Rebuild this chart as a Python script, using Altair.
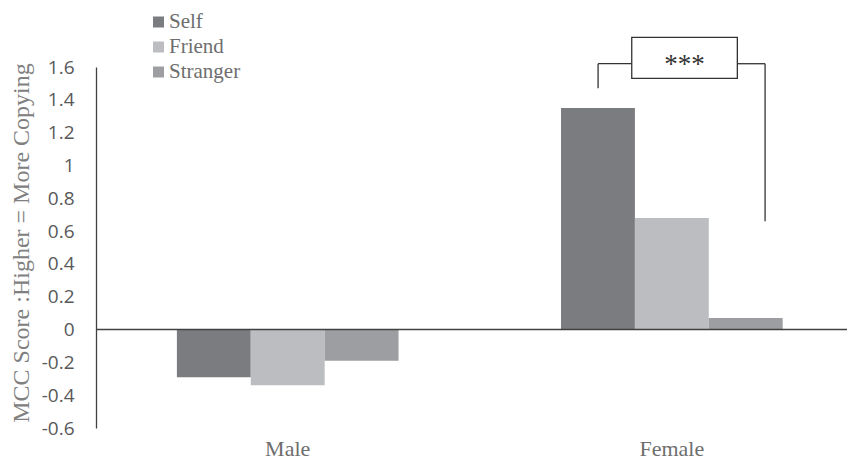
import altair as alt
import pandas as pd

# Mean MCC scores per gender and partner condition
genders = ["Male", "Female"]
conditions = ["Self", "Friend", "Stranger"]
male_scores = [-0.29, -0.34, -0.19]
female_scores = [1.35, 0.68, 0.07]
bar_colors = ["#7b7c80", "#bcbdc1", "#9d9ea2"]
y_ticks = [-0.6, -0.4, -0.2, 0, 0.2, 0.4, 0.6, 0.8, 1.0, 1.2, 1.4, 1.6]

# Significance bracket between Female/Self and Female/Stranger.
# x is in "group units" (Male centre = 0, Female centre = 1), y in score units.
seg_x = [0.808, 0.808, 1.1705, 1.2427]
seg_x2 = [0.808, 0.8956, 1.2427, 1.2427]
seg_y = [1.47, 1.62, 1.62, 1.62]
seg_y2 = [1.62, 1.62, 1.62, 0.66]
box_x, box_x2 = [0.8956], [1.1705]
box_y, box_y2 = [1.531], [1.781]
star_x, star_y, star_text = [1.033], [1.61], ["***"]

# plot size and band layout of the gender axis
W, H = 751, 361
P_INNER, P_OUTER, ALIGN = 0.423, 0.189, 0.557

# group-unit domain that lines up with the band scale above
step = W / (len(genders) - P_INNER + 2 * P_OUTER)
start = (W - step * (len(genders) - P_INNER)) * ALIGN
centre0 = start + step * (1 - P_INNER) / 2
unit_domain = [(0 - centre0) / step, (W - centre0) / step]

rows = []
for g, vals in zip(genders, [male_scores, female_scores]):
    for c, v in zip(conditions, vals):
        rows.append({"gender": g, "condition": c, "score": v})
df = pd.DataFrame(rows)

serif = "Liberation Serif"
text_grey = "#6e6e6e"

y_scale = alt.Scale(domain=[-0.6, 1.6], nice=False, zero=False)
ux_scale = alt.Scale(domain=unit_domain, nice=False, zero=False)

bars = alt.Chart(df).mark_bar().encode(
    x=alt.X(
        "gender:N",
        sort=genders,
        scale=alt.Scale(paddingInner=P_INNER, paddingOuter=P_OUTER, align=ALIGN),
        axis=alt.Axis(
            title=None, domain=False, ticks=False, labelAngle=0,
            labelFont=serif, labelFontSize=22, labelColor=text_grey,
            labelPadding=10,
        ),
    ),
    xOffset=alt.XOffset(
        "condition:N", sort=conditions,
        scale=alt.Scale(paddingInner=0, paddingOuter=0),
    ),
    y=alt.Y(
        "score:Q",
        scale=y_scale,
        axis=alt.Axis(
            values=y_ticks,
            tickCount=len(y_ticks),
            labelExpr="toString(round(datum.value * 10) / 10)",
            labelOverlap=False,
            grid=False, ticks=False, tickSize=0,
            domainColor="#404040", domainWidth=1.3,
            labelPadding=22, labelFont="Open Sans", labelFontSize=19,
            labelColor="#595959",
            title="MCC Score :Higher = More Copying",
            titleFont=serif, titleFontSize=24, titleFontWeight="normal",
            titleColor="#808080", titleX=-63, titleY=175.5,
        ),
    ),
    color=alt.Color(
        "condition:N",
        sort=conditions,
        scale=alt.Scale(domain=conditions, range=bar_colors),
        legend=alt.Legend(
            orient="none", legendX=52, legendY=-55.5, title=None,
            symbolType="square", symbolSize=121, symbolStrokeWidth=0,
            labelFont=serif, labelFontSize=21, labelColor=text_grey,
            rowPadding=3, labelOffset=0, padding=0,
        ),
    ),
)

zero_line = alt.Chart(pd.DataFrame({"z": [0]})).mark_rule(
    color="#404040", strokeWidth=1.5
).encode(y=alt.Y("z:Q", scale=y_scale))

seg_df = pd.DataFrame({"x": seg_x, "x2": seg_x2, "y": seg_y, "y2": seg_y2})
bracket = alt.Chart(seg_df).mark_rule(color="#333333", strokeWidth=1.3).encode(
    x=alt.X("x:Q", scale=ux_scale, axis=None),
    x2="x2:Q",
    y=alt.Y("y:Q", scale=y_scale),
    y2="y2:Q",
)

box_df = pd.DataFrame({"x": box_x, "x2": box_x2, "y": box_y, "y2": box_y2})
box = alt.Chart(box_df).mark_rect(
    fill="white", stroke="#333333", strokeWidth=1.3
).encode(
    x=alt.X("x:Q", scale=ux_scale, axis=None),
    x2="x2:Q",
    y=alt.Y("y:Q", scale=y_scale),
    y2="y2:Q",
)

star_df = pd.DataFrame({"x": star_x, "y": star_y, "t": star_text})
stars = alt.Chart(star_df).mark_text(
    font=serif, fontSize=27, color="#333333", baseline="middle", align="center"
).encode(
    x=alt.X("x:Q", scale=ux_scale, axis=None),
    y=alt.Y("y:Q", scale=y_scale),
    text="t:N",
)

chart = (
    alt.layer(bars, zero_line, bracket, box, stars)
    .resolve_scale(x="independent")
    .properties(
        width=W,
        height=H,
        background="white",
        autosize=alt.AutoSizeParams(type="none"),
        padding={"left": 96, "top": 67, "right": 2, "bottom": 34},
    )
    .configure_view(strokeWidth=0, stroke="transparent")
    .configure_axisY(labelOverlap=False)
    .configure_legend(labelFont=serif, labelFontSize=21, labelColor=text_grey)
)

chart.save("out.html", embed_options={"renderer": "svg", "actions": False})
